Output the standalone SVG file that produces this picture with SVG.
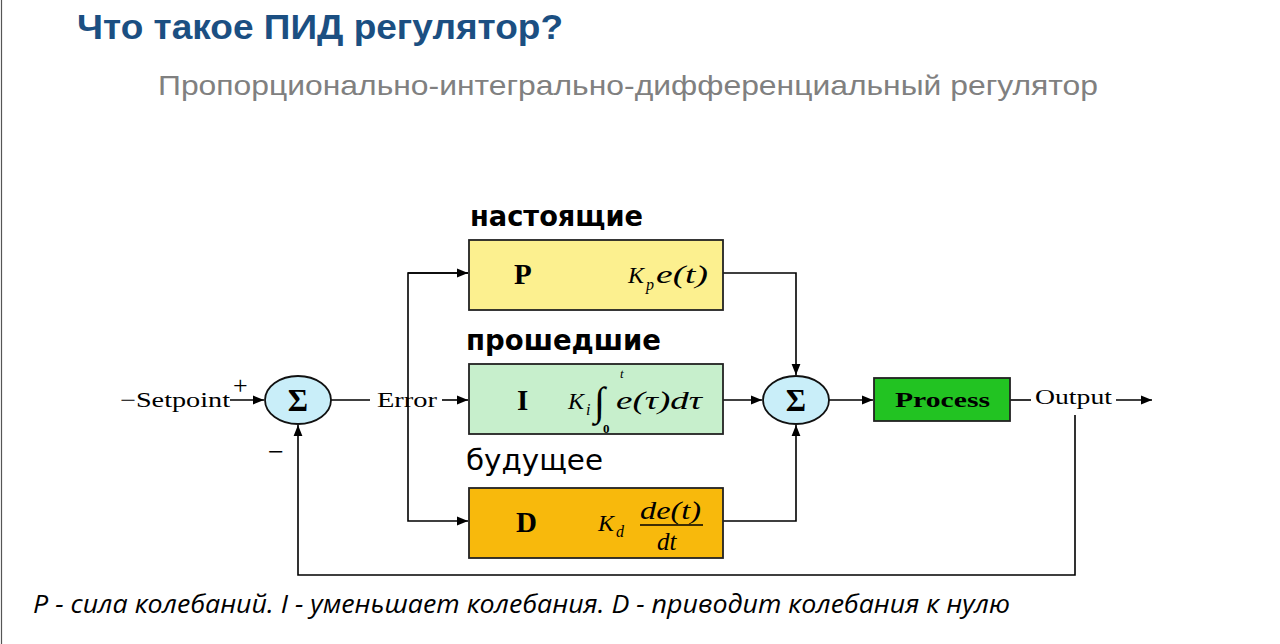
<svg xmlns="http://www.w3.org/2000/svg" width="1280" height="644" viewBox="0 0 1280 644">
<defs>
<marker id="ah" viewBox="0 0 10 10" refX="10" refY="5" markerWidth="11" markerHeight="11" markerUnits="userSpaceOnUse" orient="auto"><path d="M0,1 L10,5 L0,9 z" fill="#000"/></marker>
<style>
.ln{fill:none;stroke:#000;stroke-width:1.6}
.box{stroke:#222;stroke-width:1.8}
.sum{fill:#c9eef9;stroke:#111;stroke-width:1.8}
.ser{font-family:"Liberation Serif",serif;fill:#000}
.it{font-family:"Liberation Serif",serif;font-style:italic;fill:#000}
.bl{font-family:"Liberation Serif",serif;font-weight:bold;fill:#000}
.ru{font-family:"DejaVu Sans",sans-serif;fill:#000}
</style>
</defs>
<rect width="1280" height="644" fill="#fff"/>
<line x1="1.5" y1="0" x2="1.5" y2="644" stroke="#555" stroke-width="1.2"/>
<text x="77" y="39" font-family="Liberation Sans,Arial,sans-serif" font-weight="bold" font-size="35" fill="#1b4f82" textLength="486" lengthAdjust="spacingAndGlyphs">Что такое ПИД регулятор?</text>
<text x="158" y="95" font-family="Liberation Sans,Arial,sans-serif" font-size="28" fill="#808080" textLength="940" lengthAdjust="spacingAndGlyphs">Пропорционально-интегрально-дифференциальный  регулятор</text>

<g id="connectors">
<line class="ln" x1="230" y1="400" x2="264" y2="400" marker-end="url(#ah)"/>
<line class="ln" x1="331" y1="400" x2="370" y2="400"/>
<line class="ln" x1="442" y1="400" x2="468" y2="400" marker-end="url(#ah)"/>
<polyline class="ln" points="468,273 408,273 408,521 468,521" marker-end="url(#ah)"/>
<line class="ln" x1="408" y1="273" x2="468" y2="273" marker-end="url(#ah)"/>
<polyline class="ln" points="723,273 796,273 796,375" marker-end="url(#ah)"/>
<line class="ln" x1="723" y1="400" x2="762" y2="400" marker-end="url(#ah)"/>
<polyline class="ln" points="723,521 796,521 796,425" marker-end="url(#ah)"/>
<line class="ln" x1="829" y1="400" x2="873" y2="400" marker-end="url(#ah)"/>
<line class="ln" x1="1010" y1="400" x2="1031" y2="400"/>
<line class="ln" x1="1116" y1="400" x2="1152" y2="400" marker-end="url(#ah)"/>
<polyline class="ln" points="1075,415 1075,575 298,575 298,425" marker-end="url(#ah)"/>
</g>

<g id="setpoint">
<text class="ser" x="120" y="407" font-size="21" textLength="110" lengthAdjust="spacingAndGlyphs">−Setpoint</text>
<text class="ser" x="233" y="394" font-size="26">+</text>
<text class="ser" x="268" y="461" font-size="28">−</text>
</g>
<g id="sum1">
<ellipse class="sum" cx="298" cy="400" rx="33" ry="24"/>
<text class="bl" x="298" y="411" font-size="31" text-anchor="middle">Σ</text>
</g>
<g id="error">
<text class="ser" x="377" y="407" font-size="21" textLength="60" lengthAdjust="spacingAndGlyphs">Error</text>
</g>

<g id="labels">
<text class="ru" x="470" y="226" font-size="29" font-weight="bold" textLength="173" lengthAdjust="spacingAndGlyphs">настоящие</text>
<text class="ru" x="466" y="350" font-size="29" font-weight="bold" textLength="195" lengthAdjust="spacingAndGlyphs">прошедшие</text>
<text class="ru" x="466" y="470" font-size="29" textLength="137" lengthAdjust="spacingAndGlyphs">будущее</text>
</g>

<g id="P">
<rect class="box" x="469" y="240" width="254" height="70" fill="#fcf08f"/>
<text class="bl" x="514" y="284" font-size="29">P</text>
<text class="it" x="628" y="283" font-size="24">K</text>
<text class="it" x="646" y="290" font-size="16">p</text>
<text class="it" x="656" y="283" font-size="25" textLength="52" lengthAdjust="spacingAndGlyphs">e(t)</text>
</g>
<g id="I">
<rect class="box" x="469" y="364" width="254" height="70" fill="#c7efcc"/>
<text class="bl" x="517" y="410" font-size="29">I</text>
<text class="it" x="568" y="409" font-size="24">K</text>
<text class="it" x="586" y="415" font-size="16">i</text>
<text class="ser" x="594" y="415" font-size="40">∫</text>
<text class="it" x="620" y="378" font-size="13">t</text>
<text class="bl" x="603" y="433" font-size="13">0</text>
<text class="it" x="616" y="409" font-size="25" textLength="86" lengthAdjust="spacingAndGlyphs">e(τ)dτ</text>
</g>
<g id="D">
<rect class="box" x="469" y="488" width="254" height="70" fill="#f8b90c"/>
<text class="bl" x="516" y="532" font-size="29">D</text>
<text class="it" x="598" y="531" font-size="24">K</text>
<text class="it" x="616" y="537" font-size="16">d</text>
<text class="it" x="640" y="519" font-size="25" textLength="61" lengthAdjust="spacingAndGlyphs">de(t)</text>
<line x1="640" y1="525" x2="703" y2="525" stroke="#000" stroke-width="1.5"/>
<text class="it" x="657" y="550" font-size="25">dt</text>
</g>
<g id="sum2">
<ellipse class="sum" cx="796" cy="400" rx="33" ry="24"/>
<text class="bl" x="796" y="411" font-size="31" text-anchor="middle">Σ</text>
</g>
<g id="process">
<rect class="box" x="874" y="378" width="136" height="43" fill="#22c322"/>
<text class="bl" x="895" y="407" font-size="22" fill="#122812" textLength="95" lengthAdjust="spacingAndGlyphs">Process</text>
</g>
<g id="output">
<text class="ser" x="1035" y="404" font-size="21" textLength="77" lengthAdjust="spacingAndGlyphs">Output</text>
</g>

<text x="33" y="613" font-family="Open Sans,Liberation Sans,sans-serif" font-style="italic" font-size="25" fill="#000" textLength="977" lengthAdjust="spacingAndGlyphs">P - сила колебаний. I - уменьшает колебания. D - приводит колебания к нулю</text>
</svg>
